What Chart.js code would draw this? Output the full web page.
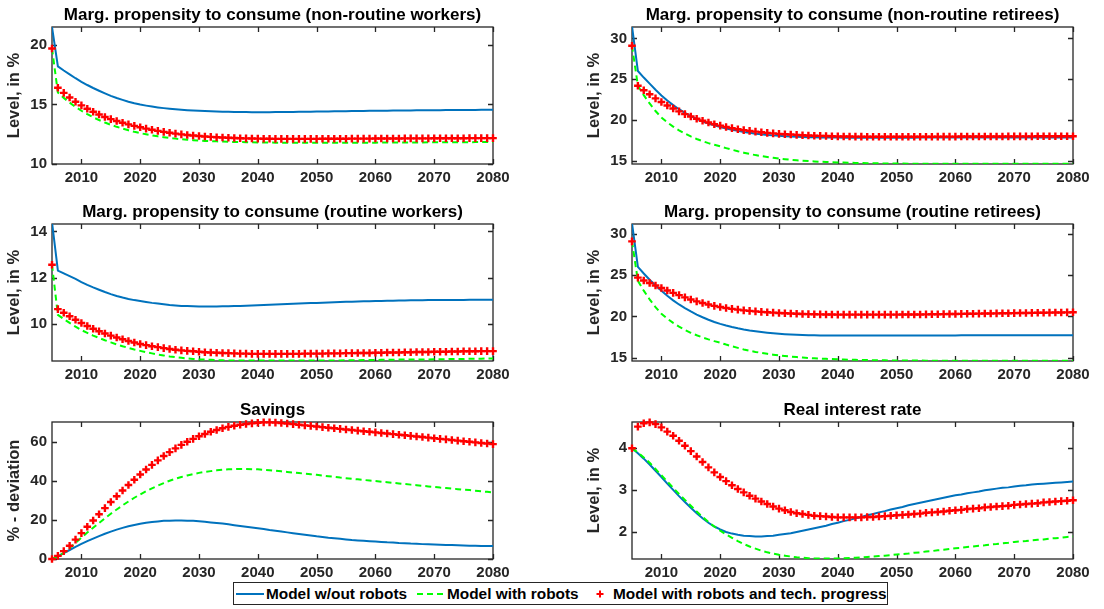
<!DOCTYPE html>
<html>
<head>
<meta charset="utf-8">
<title>Marginal propensity to consume, savings and real interest rate</title>
<script src="https://cdn.jsdelivr.net/npm/chart.js@4.4.0/dist/chart.umd.min.js"></script>
<style>
  html, body { margin: 0; padding: 0; background: #fff; }
  body { width: 1104px; height: 609px; position: relative; overflow: hidden;
         font-family: "Liberation Sans", Arial, Helvetica, sans-serif; }
  .cell { position: absolute; width: 520px; height: 196px; }
  .cell canvas { display: block; }
  #legend { position: absolute; left: 233px; top: 582px; width: 655px; height: 23px;
            border: 1px solid #262626; background: #fff; box-sizing: border-box;
            font-weight: bold; font-size: 15.4px; color: #000; }
  #legend .it { position: absolute; top: 0; height: 21px; line-height: 21px; white-space: nowrap; }
  #legend svg { position: absolute; top: 5px; }
</style>
</head>
<body>
<div class="cell" style="left:0;top:0"><canvas id="p1" width="520" height="196"></canvas></div>
<div class="cell" style="left:580px;top:0"><canvas id="p2" width="520" height="196"></canvas></div>
<div class="cell" style="left:0;top:197px"><canvas id="p3" width="520" height="196"></canvas></div>
<div class="cell" style="left:580px;top:197px"><canvas id="p4" width="520" height="196"></canvas></div>
<div class="cell" style="left:0;top:395px"><canvas id="p5" width="520" height="196"></canvas></div>
<div class="cell" style="left:580px;top:395px"><canvas id="p6" width="520" height="196"></canvas></div>

<div id="legend">
  <svg width="28" height="12" style="left:2px"><line x1="0" y1="6" x2="28" y2="6" stroke="#0072BD" stroke-width="2"/></svg>
  <span class="it" style="left:32px">Model w/out robots</span>
  <svg width="28" height="12" style="left:183px"><line x1="0" y1="6" x2="28" y2="6" stroke="#00FF00" stroke-width="2" stroke-dasharray="6 4"/></svg>
  <span class="it" style="left:213px">Model with robots</span>
  <svg width="12" height="12" style="left:360px"><path d="M6 2.5V9.5M2.5 6H9.5" stroke="#FF0000" stroke-width="2"/></svg>
  <span class="it" style="left:379px">Model with robots and tech. progress</span>
</div>

<script>
const years = [2005,2006,2007,2008,2009,2010,2011,2012,2013,2014,2015,2016,2017,2018,2019,2020,2021,2022,2023,2024,2025,2026,2027,2028,2029,2030,2031,2032,2033,2034,2035,2036,2037,2038,2039,2040,2041,2042,2043,2044,2045,2046,2047,2048,2049,2050,2051,2052,2053,2054,2055,2056,2057,2058,2059,2060,2061,2062,2063,2064,2065,2066,2067,2068,2069,2070,2071,2072,2073,2074,2075,2076,2077,2078,2079,2080];
const xTicks = [2010, 2020, 2030, 2040, 2050, 2060, 2070, 2080];
const seriesNames = ['Model w/out robots', 'Model with robots', 'Model with robots and tech. progress'];

// non-routine workers
const nrwBlue = [21.5, 18.2, 17.85, 17.52, 17.2, 16.9, 16.63, 16.38, 16.15, 15.93,
  15.72, 15.54, 15.38, 15.23, 15.1, 14.99, 14.9, 14.82, 14.75, 14.69,
  14.64, 14.6, 14.56, 14.52, 14.49, 14.46, 14.44, 14.42, 14.4, 14.39,
  14.38, 14.37, 14.36, 14.36, 14.35, 14.35, 14.35, 14.35, 14.36, 14.36,
  14.37, 14.37, 14.38, 14.38, 14.39, 14.4, 14.4, 14.41, 14.42, 14.42,
  14.43, 14.44, 14.45, 14.45, 14.46, 14.47, 14.47, 14.48, 14.49, 14.49,
  14.5, 14.5, 14.51, 14.51, 14.52, 14.52, 14.52, 14.53, 14.53, 14.53,
  14.54, 14.54, 14.54, 14.55, 14.55, 14.55];
const nrwGreen = [19.7, 16.0, 15.55, 15.15, 14.79, 14.47, 14.18, 13.92, 13.69, 13.48,
  13.29, 13.12, 12.97, 12.83, 12.7, 12.59, 12.49, 12.4, 12.32, 12.25,
  12.19, 12.13, 12.08, 12.04, 12.0, 11.97, 11.94, 11.92, 11.9, 11.88,
  11.86, 11.85, 11.84, 11.83, 11.82, 11.81, 11.8, 11.8, 11.79, 11.79,
  11.79, 11.78, 11.78, 11.78, 11.78, 11.78, 11.78, 11.78, 11.78, 11.78,
  11.78, 11.78, 11.79, 11.79, 11.79, 11.79, 11.8, 11.8, 11.8, 11.8,
  11.81, 11.81, 11.81, 11.81, 11.82, 11.82, 11.82, 11.82, 11.83, 11.83,
  11.83, 11.83, 11.84, 11.84, 11.84, 11.84];
const nrwRed = [19.7, 16.4, 15.97, 15.58, 15.23, 14.92, 14.64, 14.39, 14.16, 13.95,
  13.77, 13.61, 13.46, 13.33, 13.2, 13.08, 12.97, 12.87, 12.78, 12.7,
  12.62, 12.55, 12.49, 12.44, 12.39, 12.35, 12.31, 12.28, 12.25, 12.22,
  12.2, 12.18, 12.16, 12.15, 12.14, 12.13, 12.12, 12.12, 12.11, 12.11,
  12.11, 12.11, 12.11, 12.11, 12.11, 12.11, 12.12, 12.12, 12.12, 12.12,
  12.12, 12.13, 12.13, 12.13, 12.13, 12.14, 12.14, 12.14, 12.14, 12.14,
  12.15, 12.15, 12.15, 12.15, 12.15, 12.16, 12.16, 12.16, 12.16, 12.16,
  12.16, 12.17, 12.17, 12.17, 12.17, 12.17];
const nrwRange = [10, 21.5];
const nrwTicks = [10, 15, 20];

// non-routine retirees
const nrrBlue = [31.5, 26.0, 25.2, 24.45, 23.7, 23.0, 22.38, 21.82, 21.32, 20.88,
  20.48, 20.13, 19.83, 19.57, 19.34, 19.14, 18.96, 18.8, 18.66, 18.53,
  18.42, 18.32, 18.24, 18.17, 18.11, 18.06, 18.01, 17.97, 17.94, 17.91,
  17.89, 17.87, 17.86, 17.85, 17.84, 17.84, 17.83, 17.83, 17.83, 17.83,
  17.83, 17.83, 17.83, 17.83, 17.83, 17.83, 17.83, 17.83, 17.83, 17.84,
  17.84, 17.84, 17.84, 17.84, 17.84, 17.84, 17.85, 17.85, 17.85, 17.85,
  17.85, 17.85, 17.85, 17.85, 17.85, 17.85, 17.85, 17.85, 17.85, 17.86,
  17.86, 17.86, 17.86, 17.86, 17.86, 17.86];
const nrrGreen = [29.1, 24.2, 23.05, 22.02, 21.1, 20.3, 19.7, 19.18, 18.73, 18.33,
  17.98, 17.67, 17.4, 17.16, 16.95, 16.76, 16.55, 16.35, 16.16, 15.99,
  15.83, 15.69, 15.57, 15.46, 15.36, 15.27, 15.19, 15.12, 15.06, 15.01,
  14.96, 14.92, 14.88, 14.85, 14.82, 14.79, 14.77, 14.75, 14.73, 14.71,
  14.7, 14.69, 14.68, 14.67, 14.66, 14.65, 14.65, 14.64, 14.64, 14.64,
  14.63, 14.63, 14.63, 14.63, 14.63, 14.63, 14.63, 14.63, 14.63, 14.63,
  14.63, 14.63, 14.63, 14.63, 14.63, 14.63, 14.63, 14.63, 14.63, 14.63,
  14.63, 14.63, 14.63, 14.63, 14.63, 14.63];
const nrrRed = [29.1, 24.2, 23.65, 23.15, 22.65, 22.2, 21.78, 21.4, 21.05, 20.72,
  20.42, 20.15, 19.9, 19.68, 19.48, 19.3, 19.14, 19.0, 18.87, 18.76,
  18.66, 18.57, 18.49, 18.42, 18.36, 18.3, 18.25, 18.21, 18.17, 18.13,
  18.1, 18.07, 18.05, 18.03, 18.01, 17.99, 17.98, 17.97, 17.96, 17.96,
  17.95, 17.95, 17.95, 17.95, 17.95, 17.95, 17.95, 17.95, 17.95, 17.95,
  17.95, 17.95, 17.96, 17.96, 17.96, 17.96, 17.97, 17.97, 17.97, 17.97,
  17.98, 17.98, 17.98, 17.98, 17.99, 17.99, 17.99, 17.99, 17.99, 18.0,
  18.0, 18.0, 18.0, 18.0, 18.0, 18.0];
const nrrRange = [14.6, 31.4];
const nrrTicks = [15, 20, 25, 30];

// routine workers
const rwBlue = [14.4, 12.3, 12.18, 12.06, 11.94, 11.8, 11.68, 11.57, 11.47, 11.37,
  11.28, 11.2, 11.13, 11.07, 11.02, 10.98, 10.94, 10.9, 10.87, 10.84,
  10.81, 10.79, 10.77, 10.76, 10.75, 10.74, 10.74, 10.74, 10.74, 10.75,
  10.75, 10.76, 10.77, 10.78, 10.79, 10.8, 10.81, 10.82, 10.83, 10.84,
  10.85, 10.86, 10.87, 10.88, 10.89, 10.9, 10.91, 10.92, 10.93, 10.94,
  10.95, 10.95, 10.96, 10.97, 10.97, 10.98, 10.98, 10.99, 10.99, 11.0,
  11.0, 11.01, 11.01, 11.01, 11.02, 11.02, 11.02, 11.03, 11.03, 11.03,
  11.03, 11.04, 11.04, 11.04, 11.04, 11.04];
const rwGreen = [12.55, 10.38, 10.2, 10.03, 9.87, 9.72, 9.6, 9.48, 9.38, 9.28,
  9.19, 9.1, 9.02, 8.95, 8.88, 8.82, 8.76, 8.71, 8.66, 8.62,
  8.58, 8.55, 8.52, 8.49, 8.47, 8.45, 8.44, 8.43, 8.42, 8.41,
  8.4, 8.4, 8.4, 8.4, 8.4, 8.4, 8.4, 8.4, 8.4, 8.4,
  8.4, 8.4, 8.4, 8.4, 8.4, 8.4, 8.4, 8.4, 8.4, 8.4,
  8.41, 8.41, 8.41, 8.42, 8.42, 8.42, 8.43, 8.43, 8.43, 8.44,
  8.44, 8.44, 8.45, 8.45, 8.45, 8.46, 8.46, 8.46, 8.47, 8.47,
  8.47, 8.48, 8.48, 8.48, 8.49, 8.49];
const rwRed = [12.55, 10.63, 10.47, 10.32, 10.17, 10.03, 9.9, 9.78, 9.67, 9.57,
  9.48, 9.4, 9.32, 9.25, 9.18, 9.12, 9.07, 9.02, 8.98, 8.94,
  8.9, 8.87, 8.84, 8.82, 8.8, 8.78, 8.76, 8.75, 8.74, 8.73,
  8.72, 8.71, 8.7, 8.7, 8.69, 8.69, 8.69, 8.69, 8.69, 8.69,
  8.69, 8.69, 8.69, 8.7, 8.7, 8.7, 8.7, 8.71, 8.71, 8.71,
  8.72, 8.72, 8.73, 8.73, 8.73, 8.74, 8.74, 8.75, 8.75, 8.75,
  8.76, 8.76, 8.77, 8.77, 8.77, 8.78, 8.78, 8.78, 8.79, 8.79,
  8.8, 8.8, 8.8, 8.81, 8.81, 8.81];
const rwRange = [8.38, 14.32];
const rwTicks = [10, 12, 14];

// routine retirees
const rrBlue = [31.3, 26.0, 25.2, 24.45, 23.75, 23.1, 22.5, 21.95, 21.45, 21.0,
  20.6, 20.23, 19.9, 19.6, 19.33, 19.1, 18.9, 18.72, 18.56, 18.42,
  18.3, 18.2, 18.11, 18.03, 17.96, 17.9, 17.85, 17.81, 17.78, 17.75,
  17.73, 17.71, 17.7, 17.7, 17.69, 17.69, 17.69, 17.69, 17.69, 17.69,
  17.69, 17.69, 17.69, 17.69, 17.69, 17.69, 17.7, 17.7, 17.7, 17.7,
  17.7, 17.7, 17.7, 17.7, 17.7, 17.7, 17.71, 17.71, 17.71, 17.71,
  17.71, 17.71, 17.71, 17.71, 17.71, 17.71, 17.72, 17.72, 17.72, 17.72,
  17.72, 17.73, 17.73, 17.73, 17.73, 17.73];
const rrGreen = [29.1, 24.32, 23.12, 22.07, 21.12, 20.32, 19.74, 19.22, 18.77, 18.37,
  18.02, 17.72, 17.45, 17.22, 17.01, 16.82, 16.59, 16.38, 16.19, 16.0,
  15.84, 15.7, 15.58, 15.47, 15.37, 15.28, 15.2, 15.13, 15.07, 15.02,
  14.97, 14.93, 14.89, 14.86, 14.83, 14.8, 14.78, 14.76, 14.74, 14.72,
  14.71, 14.7, 14.69, 14.68, 14.67, 14.66, 14.66, 14.65, 14.65, 14.65,
  14.64, 14.64, 14.64, 14.64, 14.64, 14.64, 14.64, 14.64, 14.64, 14.64,
  14.64, 14.64, 14.64, 14.64, 14.64, 14.64, 14.64, 14.64, 14.64, 14.64,
  14.64, 14.64, 14.64, 14.64, 14.64, 14.64];
const rrRed = [29.1, 24.7, 24.35, 24.05, 23.75, 23.45, 23.15, 22.86, 22.58, 22.31,
  22.05, 21.82, 21.62, 21.44, 21.28, 21.14, 21.02, 20.91, 20.82, 20.74,
  20.67, 20.61, 20.55, 20.5, 20.46, 20.42, 20.38, 20.35, 20.32, 20.3,
  20.28, 20.26, 20.25, 20.24, 20.23, 20.22, 20.22, 20.22, 20.22, 20.22,
  20.22, 20.22, 20.22, 20.22, 20.22, 20.22, 20.23, 20.23, 20.24, 20.24,
  20.25, 20.26, 20.27, 20.28, 20.29, 20.3, 20.31, 20.32, 20.33, 20.34,
  20.35, 20.36, 20.37, 20.38, 20.39, 20.4, 20.41, 20.42, 20.43, 20.44,
  20.45, 20.46, 20.47, 20.48, 20.49, 20.5];
const rrRange = [14.6, 31.2];
const rrTicks = [15, 20, 25, 30];

// savings
const savBlue = [0, 1.4, 3.0, 4.6, 6.2, 7.7, 9.1, 10.4, 11.7, 12.9,
  14.0, 15.0, 15.9, 16.7, 17.4, 18.0, 18.5, 18.9, 19.2, 19.5,
  19.6, 19.7, 19.7, 19.6, 19.5, 19.3, 19.0, 18.7, 18.4, 18.1,
  17.7, 17.3, 16.9, 16.5, 16.1, 15.7, 15.3, 14.8, 14.4, 14.0,
  13.6, 13.2, 12.8, 12.4, 12.0, 11.6, 11.3, 10.9, 10.6, 10.3,
  10.0, 9.7, 9.5, 9.3, 9.1, 8.9, 8.7, 8.5, 8.4, 8.2,
  8.1, 7.9, 7.8, 7.6, 7.5, 7.4, 7.3, 7.2, 7.1, 7.0,
  6.9, 6.8, 6.8, 6.7, 6.7, 6.6];
const savGreen = [0, 1.2, 3.2, 5.6, 8.2, 10.9, 13.5, 16.0, 18.4, 20.8,
  23.1, 25.3, 27.4, 29.4, 31.3, 33.0, 34.6, 36.1, 37.5, 38.8,
  40.0, 41.0, 41.9, 42.7, 43.4, 44.0, 44.5, 44.9, 45.3, 45.6,
  45.8, 45.9, 46.0, 46.0, 45.9, 45.8, 45.6, 45.4, 45.1, 44.8,
  44.5, 44.2, 43.9, 43.6, 43.3, 43.0, 42.6, 42.3, 42.0, 41.6,
  41.3, 41.0, 40.7, 40.4, 40.1, 39.8, 39.5, 39.2, 38.9, 38.6,
  38.3, 38.0, 37.7, 37.4, 37.1, 36.8, 36.5, 36.3, 36.0, 35.7,
  35.4, 35.2, 34.9, 34.6, 34.3, 34.0];
const savRed = [0, 1.6, 4.0, 6.8, 9.9, 13.2, 16.5, 19.7, 22.9, 26.0,
  29.1, 32.1, 35.0, 37.8, 40.5, 43.2, 45.7, 48.1, 50.4, 52.6,
  54.6, 56.5, 58.3, 59.9, 61.4, 62.7, 63.9, 65.0, 65.9, 66.8,
  67.5, 68.1, 68.6, 69.0, 69.3, 69.6, 69.8, 69.8, 69.7, 69.5,
  69.2, 68.9, 68.6, 68.3, 68.0, 67.7, 67.4, 67.1, 66.8, 66.5,
  66.2, 65.9, 65.6, 65.3, 65.0, 64.7, 64.4, 64.1, 63.8, 63.5,
  63.2, 62.9, 62.6, 62.3, 62.0, 61.7, 61.4, 61.1, 60.8, 60.5,
  60.2, 59.9, 59.6, 59.3, 59.0, 58.7];
const savRange = [0, 70];
const savTicks = [0, 20, 40, 60];

// real interest rate
const rateBlue = [4.0, 3.88, 3.75, 3.61, 3.46, 3.31, 3.15, 3.0, 2.85, 2.71,
  2.57, 2.44, 2.32, 2.21, 2.12, 2.05, 1.99, 1.95, 1.92, 1.9,
  1.89, 1.88, 1.88, 1.89, 1.9, 1.92, 1.94, 1.96, 1.99, 2.02,
  2.05, 2.08, 2.11, 2.14, 2.18, 2.21, 2.25, 2.28, 2.32, 2.35,
  2.39, 2.42, 2.46, 2.49, 2.53, 2.56, 2.59, 2.63, 2.66, 2.69,
  2.72, 2.75, 2.78, 2.81, 2.84, 2.87, 2.89, 2.92, 2.94, 2.96,
  2.99, 3.01, 3.03, 3.05, 3.06, 3.08, 3.1, 3.11, 3.13, 3.14,
  3.15, 3.16, 3.17, 3.18, 3.19, 3.2];
const rateGreen = [4.0, 3.9, 3.78, 3.65, 3.5, 3.35, 3.2, 3.05, 2.9, 2.76,
  2.62, 2.48, 2.35, 2.23, 2.12, 2.02, 1.93, 1.85, 1.77, 1.7,
  1.64, 1.59, 1.54, 1.5, 1.47, 1.44, 1.42, 1.4, 1.38, 1.37,
  1.36, 1.355, 1.35, 1.35, 1.35, 1.355, 1.36, 1.365, 1.37, 1.38,
  1.39, 1.4, 1.41, 1.42, 1.43, 1.45, 1.46, 1.47, 1.49, 1.5,
  1.52, 1.53, 1.55, 1.56, 1.58, 1.6, 1.61, 1.63, 1.64, 1.66,
  1.67, 1.69, 1.7, 1.72, 1.73, 1.75, 1.76, 1.77, 1.79, 1.8,
  1.81, 1.83, 1.84, 1.85, 1.87, 1.88];
const rateRed = [4.0, 4.52, 4.6, 4.62, 4.58, 4.5, 4.4, 4.3, 4.18, 4.06,
  3.93, 3.8, 3.67, 3.54, 3.42, 3.31, 3.21, 3.11, 3.02, 2.94,
  2.86, 2.79, 2.72, 2.66, 2.6, 2.55, 2.51, 2.47, 2.44, 2.42,
  2.4, 2.38, 2.37, 2.36, 2.35, 2.34, 2.34, 2.34, 2.34, 2.34,
  2.35, 2.35, 2.36, 2.37, 2.38, 2.39, 2.4, 2.41, 2.42, 2.43,
  2.45, 2.46, 2.47, 2.48, 2.5, 2.51, 2.52, 2.54, 2.55, 2.56,
  2.58, 2.59, 2.6, 2.61, 2.62, 2.64, 2.65, 2.66, 2.67, 2.68,
  2.7, 2.71, 2.72, 2.73, 2.74, 2.75];
const rateRange = [1.34, 4.63];
const rateTicks = [2, 3, 4];

const FONT = '"Liberation Sans", Arial, Helvetica, sans-serif';
const AXIS = '#262626';
Chart.defaults.font.family = FONT;

// MATLAB-like box with inward ticks on all four sides, title centred over the axes
const boxTicks = {
  id: 'boxTicks',
  beforeDatasetsDraw(chart, args, opts) {
    const { ctx, chartArea: a, scales: { x, y } } = chart;
    ctx.save();
    ctx.strokeStyle = AXIS;
    ctx.lineWidth = 1.3;
    ctx.beginPath();
    x.ticks.forEach(t => {
      const px = Math.round(x.getPixelForValue(t.value)) + 0.5;
      ctx.moveTo(px, a.bottom); ctx.lineTo(px, a.bottom - 5);
      ctx.moveTo(px, a.top); ctx.lineTo(px, a.top + 5);
    });
    y.ticks.forEach(t => {
      const py = Math.round(y.getPixelForValue(t.value)) + 0.5;
      ctx.moveTo(a.left, py); ctx.lineTo(a.left + 5, py);
      ctx.moveTo(a.right, py); ctx.lineTo(a.right - 5, py);
    });
    ctx.stroke();
    ctx.strokeRect(a.left, a.top, a.right - a.left, a.bottom - a.top);

    ctx.fillStyle = '#000';
    ctx.font = 'bold 17px ' + FONT;
    ctx.textAlign = 'center';
    ctx.textBaseline = 'alphabetic';
    ctx.fillText(opts.text, (a.left + a.right) / 2, a.top - 7);
    ctx.restore();
  }
};

function pts(vals) {
  return vals.map((v, i) => ({ x: years[i], y: v }));
}

function makePanel(id, title, yLabel, range, yTicks, blue, green, red) {
  new Chart(document.getElementById(id), {
    type: 'line',
    data: {
      datasets: [
        { label: seriesNames[0], data: pts(blue), borderColor: '#0072BD', borderWidth: 2,
          pointRadius: 0, fill: false, order: 3 },
        { label: seriesNames[1], data: pts(green), borderColor: '#00FF00', borderWidth: 2,
          borderDash: [6, 4], pointRadius: 0, fill: false, order: 2 },
        { label: seriesNames[2], data: pts(red), showLine: false, pointStyle: 'cross',
          pointRadius: 3.8, pointBorderWidth: 2.4, pointBorderColor: '#FF0000',
          borderColor: '#FF0000', order: 1, clip: 6 }
      ]
    },
    options: {
      responsive: false,
      animation: false,
      layout: { padding: { left: 0, right: 27, top: 27, bottom: 0 } },
      plugins: {
        legend: { display: false },
        tooltip: { enabled: false },
        title: { display: false },
        boxTicks: { text: title }
      },
      scales: {
        x: {
          type: 'linear', min: 2005, max: 2080,
          afterBuildTicks: axis => { axis.ticks = xTicks.map(v => ({ value: v })); },
          afterFit: s => { s.height = 32; },
          grid: { display: false, drawTicks: false },
          border: { display: false },
          ticks: { color: AXIS, padding: 5, maxRotation: 0, autoSkip: false,
                   font: { size: 15, weight: 'bold' }, callback: v => String(v) }
        },
        y: {
          min: range[0], max: range[1],
          afterBuildTicks: axis => { axis.ticks = yTicks.map(v => ({ value: v })); },
          afterFit: s => { s.width = 52; },
          grid: { display: false, drawTicks: false },
          border: { display: false },
          ticks: { color: AXIS, padding: 5, font: { size: 15, weight: 'bold' },
                   callback: v => String(v) },
          title: { display: true, text: yLabel, color: AXIS,
                   font: { size: 16.5, weight: 'bold' }, padding: { top: 5, bottom: 0 } }
        }
      }
    },
    plugins: [boxTicks]
  });
}

makePanel('p1', 'Marg. propensity to consume (non-routine workers)', 'Level, in %', nrwRange, nrwTicks, nrwBlue, nrwGreen, nrwRed);
makePanel('p2', 'Marg. propensity to consume (non-routine retirees)', 'Level, in %', nrrRange, nrrTicks, nrrBlue, nrrGreen, nrrRed);
makePanel('p3', 'Marg. propensity to consume (routine workers)', 'Level, in %', rwRange, rwTicks, rwBlue, rwGreen, rwRed);
makePanel('p4', 'Marg. propensity to consume (routine retirees)', 'Level, in %', rrRange, rrTicks, rrBlue, rrGreen, rrRed);
makePanel('p5', 'Savings', '% - deviation', savRange, savTicks, savBlue, savGreen, savRed);
makePanel('p6', 'Real interest rate', 'Level, in %', rateRange, rateTicks, rateBlue, rateGreen, rateRed);
</script>
</body>
</html>
